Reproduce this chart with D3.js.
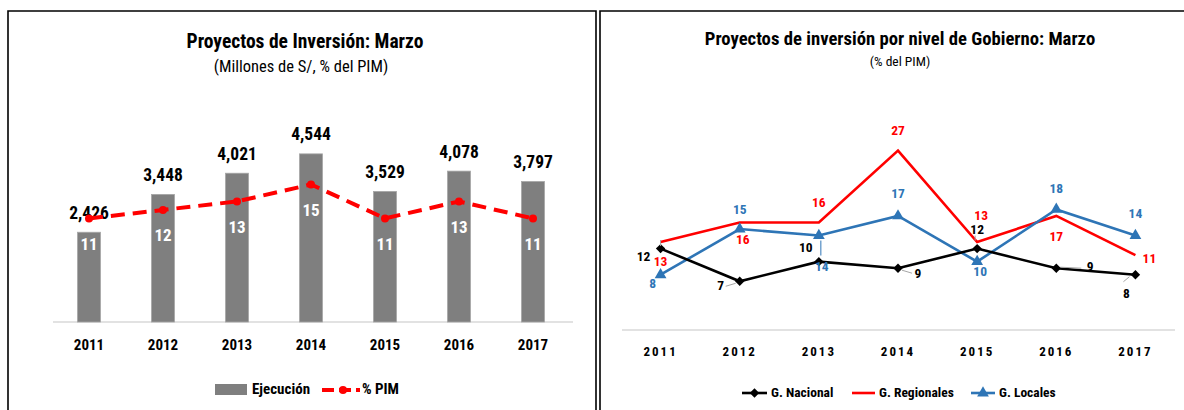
<!DOCTYPE html>
<html>
<head>
<meta charset="utf-8">
<script src="https://cdn.jsdelivr.net/npm/d3@7"></script>
<style>
  body { margin: 0; background: #fff; }
  svg text { font-family: 'Liberation Sans Narrow', 'Arial Narrow', 'Roboto Condensed', 'Liberation Sans', sans-serif; }
</style>
</head>
<body>
<svg id="chart" width="1184" height="410"></svg>
<script>
// ---- data ----
const years = ["2011", "2012", "2013", "2014", "2015", "2016", "2017"];
const ejecucion = [2426, 3448, 4021, 4544, 3529, 4078, 3797];   // millones de S/
const pctPim = [11, 12, 13, 15, 11, 13, 11];                     // % del PIM
const gNacional = [12, 7, 10, 9, 12, 9, 8];
const gRegionales = [13, 16, 16, 27, 13, 17, 11];
const gLocales = [8, 15, 14, 17, 10, 18, 14];

const svg = d3.select("#chart");
const fmt = d3.format(",");

// ---- panel frames ----
svg.append("path").attr("d", "M8,412V11H596V412").attr("fill", "none").attr("stroke", "#000").attr("stroke-width", 1.6);
svg.append("path").attr("d", "M600,412V11H1186").attr("fill", "none").attr("stroke", "#000").attr("stroke-width", 1.6);

// ================= left chart: bars + % PIM =================
const L = svg.append("g");
L.append("text").attr("x", 305).attr("y", 43).attr("text-anchor", "middle").attr("dominant-baseline", "middle")
  .attr("font-size", 19.5).attr("font-weight", "bold").text("Proyectos de Inversión: Marzo");
L.append("text").attr("x", 301).attr("y", 68).attr("text-anchor", "middle").attr("dominant-baseline", "middle")
  .attr("font-size", 16.5).text("(Millones de S/, % del PIM)");

const xL = d3.scaleBand().domain(years).range([52, 570]).paddingInner(0.69).paddingOuter(0.345);
const yL = d3.scaleLinear().domain([0, 5000]).range([322, 137]);
const yP = d3.scaleLinear().domain([-1.2, 20]).range([322, 142]);

L.append("line").attr("x1", 53).attr("x2", 573).attr("y1", 322).attr("y2", 322)
  .attr("stroke", "#d9d9d9").attr("stroke-width", 1.5);

L.selectAll("rect.bar").data(ejecucion).join("rect").attr("class", "bar")
  .attr("x", (d, i) => xL(years[i])).attr("width", xL.bandwidth())
  .attr("y", d => yL(d)).attr("height", d => yL(0) - yL(d))
  .attr("fill", "#7f7f7f").attr("stroke", "#a6a6a6").attr("stroke-width", 0.8);

L.selectAll("text.val").data(ejecucion).join("text").attr("class", "val")
  .attr("x", (d, i) => xL(years[i]) + xL.bandwidth() / 2).attr("y", d => yL(d) - 18)
  .attr("text-anchor", "middle").attr("dominant-baseline", "middle")
  .attr("font-size", 17.5).attr("font-weight", "bold").attr("fill", "#000").text(d => fmt(d));

const cx = (i) => xL(years[i]) + xL.bandwidth() / 2;
const pimLine = d3.line().x((d, i) => cx(i)).y(d => yP(d));
L.append("path").datum(pctPim).attr("d", pimLine).attr("fill", "none")
  .attr("stroke", "#ff0000").attr("stroke-width", 4).attr("stroke-dasharray", "14,8");
L.selectAll("circle.pim").data(pctPim).join("circle").attr("class", "pim")
  .attr("cx", (d, i) => cx(i)).attr("cy", d => yP(d)).attr("r", 4).attr("fill", "#ff0000");
L.selectAll("text.pim").data(pctPim).join("text").attr("class", "pim")
  .attr("x", (d, i) => cx(i)).attr("y", d => yP(d) + 27)
  .attr("text-anchor", "middle").attr("dominant-baseline", "middle")
  .attr("font-size", 17).attr("font-weight", "bold").attr("fill", "#fff").text(d => d);

L.selectAll("text.year").data(years).join("text").attr("class", "year")
  .attr("x", d => xL(d) + xL.bandwidth() / 2).attr("y", 346)
  .attr("text-anchor", "middle").attr("dominant-baseline", "middle")
  .attr("font-size", 15).attr("font-weight", "bold").text(d => d);

// legend
L.append("rect").attr("x", 215).attr("y", 384).attr("width", 32).attr("height", 11).attr("fill", "#7f7f7f");
L.append("text").attr("x", 252).attr("y", 390).attr("dominant-baseline", "middle")
  .attr("font-size", 15).attr("font-weight", "bold").text("Ejecución");
L.append("line").attr("x1", 322).attr("x2", 360).attr("y1", 390).attr("y2", 390)
  .attr("stroke", "#ff0000").attr("stroke-width", 4).attr("stroke-dasharray", "12,5");
L.append("circle").attr("cx", 343).attr("cy", 390).attr("r", 4).attr("fill", "#ff0000");
L.append("text").attr("x", 362).attr("y", 390).attr("dominant-baseline", "middle")
  .attr("font-size", 15).attr("font-weight", "bold").text("% PIM");

// ================= right chart: % PIM by level of government =================
const R = svg.append("g");
R.append("text").attr("x", 900).attr("y", 40).attr("text-anchor", "middle").attr("dominant-baseline", "middle")
  .attr("font-size", 18.7).attr("font-weight", "bold").text("Proyectos de inversión por nivel de Gobierno: Marzo");
R.append("text").attr("x", 900).attr("y", 62).attr("text-anchor", "middle").attr("dominant-baseline", "middle")
  .attr("font-size", 13.5).text("(% del PIM)");

const xR = d3.scalePoint().domain(years).range([621, 1175]).padding(0.5);
const yR = d3.scaleLinear().domain([0, 30]).range([327, 131]);

R.append("line").attr("x1", 622).attr("x2", 1175).attr("y1", 330).attr("y2", 330)
  .attr("stroke", "#d9d9d9").attr("stroke-width", 1.5);

R.selectAll("text.year").data(years).join("text").attr("class", "year")
  .attr("x", d => xR(d)).attr("y", 353)
  .attr("text-anchor", "middle").attr("dominant-baseline", "middle")
  .attr("font-size", 13).attr("font-weight", "bold").attr("letter-spacing", 2).text(d => d);

const diamond = d3.symbol().type(d3.symbolSquare).size(44);
const triangle = d3.symbol().type(d3.symbolTriangle).size(60);

// label offsets (dx, dy) from each point, and optional leader segment [x1, y1, x2, y2, colour]
const series = [
  { name: "G. Nacional", values: gNacional, color: "#000000", labelColor: "#000000", marker: "diamond",
    offsets: [[-17, 9], [-19, 5], [-13, -13], [20, 6], [0, -18], [34, -1], [-9, 20]],
    leaders: [null, [-14, 5, -4, 2, "#a6a6a6"], null, [4, 2, 14, 5, "#a6a6a6"], [-2, -13, -2, -8, "#a6a6a6"], [4, -1, 25, 0, "#a6a6a6"], [-12, 7, -6, 2, "#a6a6a6"]] },
  { name: "G. Regionales", values: gRegionales, color: "#ff0000", labelColor: "#ff0000", marker: null,
    offsets: [[0, 20], [3, 18], [0, -19], [0, -19], [4, -26], [0, 22], [14, 4]],
    leaders: [[0, -2, 0, 4, "#a6a6a6"], null, null, null, null, null, null] },
  { name: "G. Locales", values: gLocales, color: "#2e75b6", labelColor: "#2e75b6", marker: "triangle",
    offsets: [[-8, 10], [0, -19], [3, 32], [0, -21], [3, 11], [0, -20], [0, -21]],
    leaders: [null, null, [2, 5, 2, 20, "#2e75b6"], null, null, null, null] }
];

const lineR = d3.line().x((d, i) => xR(years[i])).y(d => yR(d));

// draw lines in the order Regionales, Locales, Nacional (Nacional on top)
[series[1], series[2], series[0]].forEach(s => {
  const g = R.append("g");
  g.append("path").datum(s.values).attr("d", lineR).attr("fill", "none")
    .attr("stroke", s.color).attr("stroke-width", 2.6).attr("stroke-linejoin", "miter");
  if (s.marker === "diamond") {
    g.selectAll("path.m").data(s.values).join("path").attr("class", "m")
      .attr("d", diamond).attr("fill", s.color)
      .attr("transform", (d, i) => `translate(${xR(years[i])},${yR(d)}) rotate(45)`);
  } else if (s.marker === "triangle") {
    g.selectAll("path.m").data(s.values).join("path").attr("class", "m")
      .attr("d", triangle).attr("fill", s.color)
      .attr("transform", (d, i) => `translate(${xR(years[i])},${yR(d)})`);
  }
});

series.forEach(s => {
  s.values.forEach((v, i) => {
    const px = xR(years[i]), py = yR(v);
    const ld = s.leaders[i];
    if (ld) {
      R.append("line").attr("x1", px + ld[0]).attr("y1", py + ld[1]).attr("x2", px + ld[2]).attr("y2", py + ld[3])
        .attr("stroke", ld[4]).attr("stroke-width", 1);
    }
  });
  R.selectAll(null).data(s.values).join("text")
    .attr("x", (d, i) => xR(years[i]) + s.offsets[i][0]).attr("y", (d, i) => yR(d) + s.offsets[i][1])
    .attr("text-anchor", "middle").attr("dominant-baseline", "middle")
    .attr("font-size", 13.5).attr("font-weight", "bold").attr("fill", s.labelColor).text(d => d);
});

// legend
const legR = [
  { x1: 742, x2: 767, tx: 771 },
  { x1: 852, x2: 875, tx: 879 },
  { x1: 971, x2: 995, tx: 999 }
];
series.forEach((s, k) => {
  const p = legR[k], ly = 393;
  R.append("line").attr("x1", p.x1).attr("x2", p.x2).attr("y1", ly).attr("y2", ly)
    .attr("stroke", s.color).attr("stroke-width", 2.6);
  const mx = (p.x1 + p.x2) / 2;
  if (s.marker === "diamond") {
    R.append("path").attr("d", diamond).attr("fill", s.color).attr("transform", `translate(${mx},${ly}) rotate(45)`);
  } else if (s.marker === "triangle") {
    R.append("path").attr("d", triangle).attr("fill", s.color).attr("transform", `translate(${mx},${ly})`);
  }
  R.append("text").attr("x", p.tx).attr("y", ly).attr("dominant-baseline", "middle")
    .attr("font-size", 13.5).attr("font-weight", "bold").text(s.name);
});
</script>
</body>
</html>
